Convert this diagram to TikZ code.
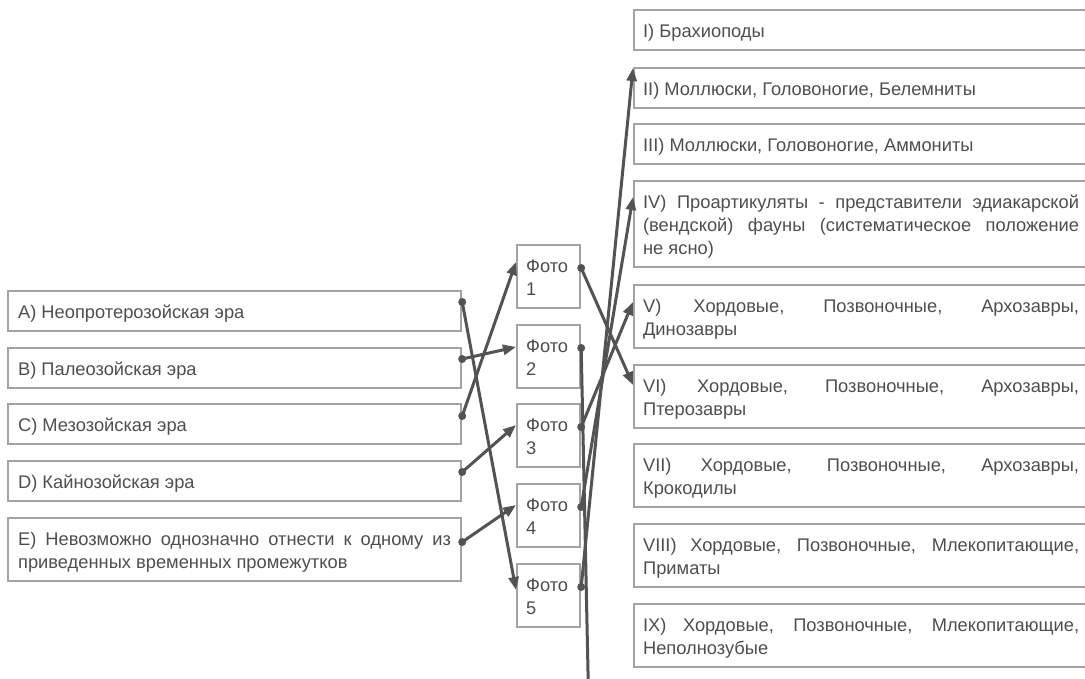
\documentclass[tikz,border=0pt]{standalone}
\usepackage{fontspec}
\setmainfont{Liberation Sans}
\usetikzlibrary{arrows.meta}

\hyphenpenalty=10000
\exhyphenpenalty=10000

\definecolor{framegray}{HTML}{A3A3A3}
\definecolor{textgray}{HTML}{4E4E4E}
\definecolor{linkgray}{HTML}{535353}

\newcommand\topstrut{\rule{0pt}{20pt}}
\newcommand\botstrut{\rule[-6pt]{0pt}{6pt}}

\tikzset{
  cell/.style={draw=framegray, line width=2.2pt, anchor=north west, text=textgray,
    inner xsep=10pt, inner ysep=7pt, align=justify,
    font=\fontsize{18.3}{23}\selectfont,
    execute at begin node=\topstrut, execute at end node=\botstrut},
  era/.style={cell, text width=433pt},
  group/.style={cell, inner xsep=9pt, text width=436pt},
  foto/.style={cell, inner xsep=9pt, text width=45pt, align=left},
  link/.style={draw=linkgray, line width=3pt, ->},
}

\begin{document}
\begin{tikzpicture}[x=1pt, y=-1pt, >={Triangle[length=13pt,width=10pt]}]

\useasboundingbox (0,0) rectangle (1085,679);
\clip (0,0) rectangle (1085,679);

\newcommand\Lx{7}
\newcommand\Px{516}
\newcommand\Rx{633}

% eras
\node[era] (A) at (\Lx, 290) {A) Неопротерозойская эра};
\node[era] (B) at (\Lx, 347) {B) Палеозойская эра};
\node[era] (C) at (\Lx, 403) {C) Мезозойская эра};
\node[era] (D) at (\Lx, 460) {D) Кайнозойская эра};
\node[era] (E) at (\Lx, 517) {E) Невозможно однозначно отнести к одному из\linebreak приведенных временных промежутков};

% photos
\node[foto] (F1) at (\Px, 244) {Фото\\1};
\node[foto] (F2) at (\Px, 324) {Фото\\2};
\node[foto] (F3) at (\Px, 403) {Фото\\3};
\node[foto] (F4) at (\Px, 483) {Фото\\4};
\node[foto] (F5) at (\Px, 563) {Фото\\5};

% groups
\node[group] (I)    at (\Rx, 9)   {I) Брахиоподы};
\node[group] (II)   at (\Rx, 67)  {II) Моллюски, Головоногие, Белемниты};
\node[group] (III)  at (\Rx, 123) {III) Моллюски, Головоногие, Аммониты};
\node[group] (IV)   at (\Rx, 180) {IV) Проартикуляты - представители эдиакарской\linebreak (вендской) фауны (систематическое положение\linebreak не ясно)};
\node[group] (V)    at (\Rx, 284) {V) Хордовые, Позвоночные, Архозавры,\linebreak Динозавры};
\node[group] (VI)   at (\Rx, 364) {VI) Хордовые, Позвоночные, Архозавры,\linebreak Птерозавры};
\node[group] (VII)  at (\Rx, 443) {VII) Хордовые, Позвоночные, Архозавры,\linebreak Крокодилы};
\node[group] (VIII) at (\Rx, 523) {VIII) Хордовые, Позвоночные, Млекопитающие,\linebreak Приматы};
\node[group] (IX)   at (\Rx, 603) {IX) Хордовые, Позвоночные, Млекопитающие,\linebreak Неполнозубые};

\coordinate (off) at (588.6, 700);

% eras -> photos
\fill[linkgray] ([yshift=-12pt]A.north east) circle (4pt);
\draw[link] ([yshift=-12pt]A.north east) -- ([yshift=-27pt]F5.north west);
\fill[linkgray] ([yshift=-12pt]B.north east) circle (4pt);
\draw[link] ([yshift=-12pt]B.north east) -- ([yshift=-23pt]F2.north west);
\fill[linkgray] ([yshift=-13pt]C.north east) circle (4pt);
\draw[link] ([yshift=-13pt]C.north east) -- ([yshift=-18pt]F1.north west);
\fill[linkgray] ([yshift=-12pt]D.north east) circle (4pt);
\draw[link] ([yshift=-12pt]D.north east) -- ([yshift=-22pt]F3.north west);
\fill[linkgray] ([yshift=-25pt]E.north east) circle (4pt);
\draw[link] ([yshift=-25pt]E.north east) -- ([yshift=-22pt]F4.north west);

% photos -> groups
\fill[linkgray] ([yshift=-24pt]F1.north east) circle (4pt);
\draw[link] ([yshift=-24pt]F1.north east) -- ([yshift=-21pt]VI.north west);
\fill[linkgray] ([yshift=-24pt]F2.north east) circle (4pt);
\draw[link, -] ([yshift=-24pt]F2.north east) -- (off);
\fill[linkgray] ([yshift=-24pt]F3.north east) circle (4pt);
\draw[link] ([yshift=-24pt]F3.north east) -- ([yshift=-18pt]V.north west);
\fill[linkgray] ([yshift=-24pt]F4.north east) circle (4pt);
\draw[link] ([yshift=-24pt]F4.north east) -- ([yshift=-17pt]IV.north west);
\fill[linkgray] ([yshift=-24pt]F5.north east) circle (4pt);
\draw[link] ([yshift=-24pt]F5.north east) -- ([yshift=-1pt]II.north west);

\end{tikzpicture}
\end{document}
